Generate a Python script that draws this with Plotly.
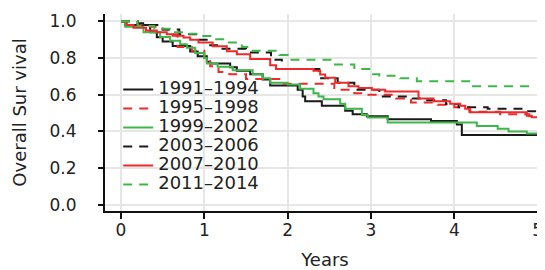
import plotly.graph_objects as go

# ---- data ----
series_names = ["1991–1994", "1995–1998", "1999–2002", "2003–2006", "2007–2010", "2011–2014"]

t_1991 = [0, 0.05, 0.35, 0.43, 0.5, 0.62, 0.83, 0.92, 1.03, 1.07, 1.31, 1.39, 1.55, 1.7, 1.79, 2.12, 2.18, 2.21, 2.41, 2.69, 2.78, 2.95, 3.2, 3.72, 4.03, 4.09, 5.0]
s_1991 = [1.0, 0.98, 0.94, 0.913, 0.89, 0.865, 0.835, 0.81, 0.78, 0.77, 0.75, 0.73, 0.712, 0.683, 0.65, 0.627, 0.59, 0.565, 0.54, 0.513, 0.494, 0.482, 0.466, 0.456, 0.437, 0.38, 0.38]

t_1995 = [0, 0.2, 0.35, 0.5, 0.62, 0.68, 0.85, 1.0, 1.07, 1.17, 1.3, 1.5, 1.95, 2.56, 2.8, 2.97, 3.3, 3.48, 3.8, 4.0, 4.18, 4.55, 4.9, 5.0]
s_1995 = [1.0, 0.985, 0.97, 0.955, 0.93, 0.86, 0.84, 0.80, 0.755, 0.724, 0.712, 0.685, 0.66, 0.627, 0.608, 0.60, 0.58, 0.557, 0.545, 0.532, 0.507, 0.494, 0.483, 0.483]

t_1999 = [0, 0.05, 0.27, 0.47, 0.59, 0.71, 0.79, 0.89, 1.0, 1.03, 1.16, 1.34, 1.58, 1.7, 1.79, 2.0, 2.15, 2.31, 2.37, 2.43, 2.63, 2.69, 2.89, 2.96, 3.2, 4.27, 4.52, 4.65, 4.87, 5.0]
s_1999 = [1.0, 0.97, 0.94, 0.915, 0.894, 0.875, 0.856, 0.828, 0.80, 0.77, 0.752, 0.733, 0.712, 0.69, 0.665, 0.655, 0.632, 0.608, 0.59, 0.575, 0.551, 0.523, 0.49, 0.476, 0.448, 0.43, 0.415, 0.40, 0.388, 0.388]

t_2003 = [0, 0.2, 0.33, 0.5, 0.7, 0.9, 1.05, 1.2, 1.5, 1.8, 1.93, 2.38, 2.6, 2.8, 3.1, 3.5, 3.65, 3.9, 4.05, 4.4, 4.85, 5.0]
s_2003 = [1.0, 0.99, 0.98, 0.955, 0.93, 0.90, 0.87, 0.85, 0.83, 0.79, 0.74, 0.69, 0.665, 0.627, 0.59, 0.58, 0.57, 0.55, 0.532, 0.523, 0.51, 0.51]

t_2007 = [0, 0.07, 0.15, 0.3, 0.43, 0.55, 0.62, 0.75, 0.83, 0.93, 1.1, 1.27, 1.39, 1.55, 1.79, 1.86, 2.31, 2.39, 2.45, 2.57, 2.73, 2.85, 3.01, 3.17, 3.57, 3.75, 3.95, 4.07, 4.13, 4.19, 4.87, 4.93, 5.0]
s_2007 = [1.0, 0.98, 0.965, 0.95, 0.94, 0.93, 0.922, 0.912, 0.90, 0.885, 0.864, 0.837, 0.82, 0.795, 0.76, 0.74, 0.73, 0.71, 0.693, 0.665, 0.646, 0.636, 0.627, 0.618, 0.58, 0.564, 0.551, 0.54, 0.523, 0.504, 0.485, 0.477, 0.477]

t_2011 = [0, 0.2, 0.4, 0.6, 0.8, 0.93, 1.1, 1.28, 1.45, 1.55, 1.9, 2.0, 2.55, 2.8, 3.0, 3.1, 3.35, 3.55, 4.2, 4.95]
s_2011 = [1.0, 0.975, 0.96, 0.94, 0.932, 0.92, 0.903, 0.885, 0.86, 0.84, 0.816, 0.79, 0.765, 0.74, 0.712, 0.703, 0.69, 0.674, 0.646, 0.646]

x_ticks = [0, 1, 2, 3, 4, 5]
y_ticks = [0.0, 0.2, 0.4, 0.6, 0.8, 1.0]

times = [t_1991, t_1995, t_1999, t_2003, t_2007, t_2011]
survs = [s_1991, s_1995, s_1999, s_2003, s_2007, s_2011]

# ---- styles ----
colors = ["#1a1a1a", "#ee2a2a", "#3fb54a", "#1a1a1a", "#ee2a2a", "#3fb54a"]
dashes = ["solid", "9px,7px", "solid", "9px,7px", "solid", "9px,7px"]
FONT = "DejaVu Sans"

fig = go.Figure()
for name, t, s, c, d in zip(series_names, times, survs, colors, dashes):
    fig.add_trace(go.Scatter(
        x=t, y=s, mode="lines", line=dict(shape="hv", color=c, width=2, dash=d),
        name='<span style="font-size:18px">' + name + '</span>',
    ))

# white box behind the legend hiding the grid
fig.add_shape(type="rect", xref="paper", yref="paper", x0=0, x1=0.336, y0=0.01, y1=0.73,
              fillcolor="white", line=dict(width=0), layer="between")

axis_common = dict(
    showline=True, linecolor="#111111", linewidth=2, mirror=False,
    ticks="outside", tickcolor="#111111", tickwidth=1.5,
    showgrid=True, gridcolor="#e6e6e6", gridwidth=1.5, zeroline=False,
    tickfont=dict(family=FONT, size=17, color="#222222"),
    automargin=False,
)

# the page body adds an 8px offset, so the figure is 8px smaller than the window
fig.update_layout(
    template="none",
    width=537, height=262,
    margin=dict(l=97, r=0, t=6, b=59, pad=0),
    paper_bgcolor="white", plot_bgcolor="white",
    font=dict(family=FONT, color="#222222"),
    showlegend=True,
    legend=dict(x=0.03, y=0.69, xanchor="left", yanchor="top",
                bgcolor="rgba(0,0,0,0)", borderwidth=0,
                font=dict(family=FONT, size=12, color="#222222"),
                tracegroupgap=0),
    xaxis=dict(range=[-0.192, 5.088], tickvals=x_ticks, ticklen=6, ticklabelstandoff=-3,
               title=dict(text="Years", font=dict(family=FONT, size=18, color="#222222"), standoff=22),
               **axis_common),
    yaxis=dict(range=[-0.034, 1.040], tickvals=y_ticks, tickformat=".1f", ticklen=5, ticklabelstandoff=18,
               title=dict(text="Overall Sur vival", font=dict(family=FONT, size=18, color="#222222"), standoff=18),
               **axis_common),
)

fig.write_html("out.html")
